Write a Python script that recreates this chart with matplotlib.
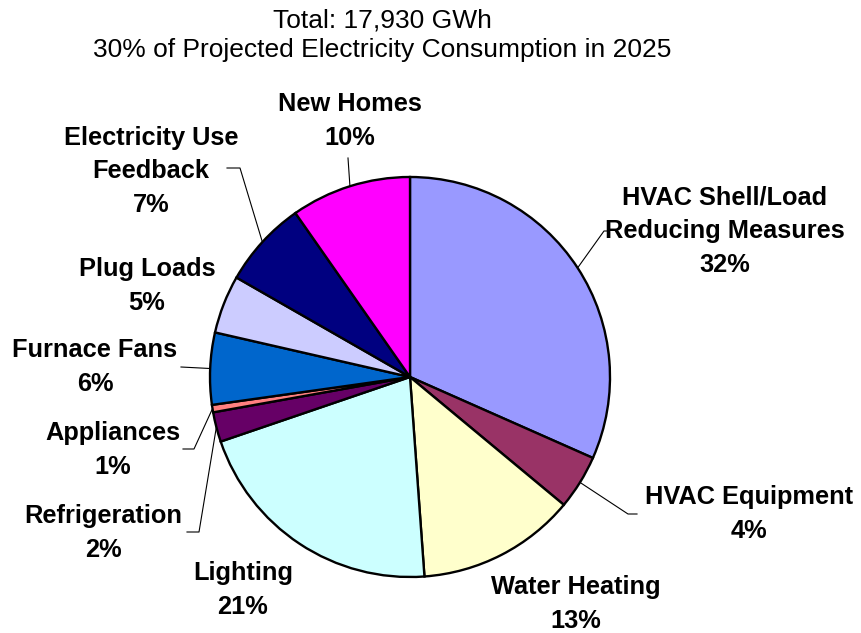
import numpy as np
import matplotlib.pyplot as plt

# share of savings by end use, % of the 17,930 GWh total
categories = ['HVAC Shell/Load\nReducing Measures', 'HVAC Equipment', 'Water Heating',
              'Lighting', 'Refrigeration', 'Appliances', 'Furnace Fans', 'Plug Loads',
              'Electricity Use\nFeedback', 'New Homes']
shares = [31.6, 4.4, 12.8, 20.9, 2.4, 0.6, 5.8, 4.7, 7.0, 9.7]
colors = ['#9999FF', '#993366', '#FFFFCC', '#CCFFFF', '#660066',
          '#FF8080', '#0066CC', '#CCCCFF', '#000080', '#FF00FF']

W, H = 861, 633

# label anchor (pixel x, pixel y from top) and leader line bends for each slice
label_pos = [(725, 231), (749, 514), (576, 604), (243, 590), (103, 533),
             (113, 450), (95, 367), (147, 286), (151, 171), (350, 121)]
leaders = [[(604, 231), (609, 231)], [(628, 514), (637, 514)], None, None,
           [(199, 532), (187, 532)], [(194, 449), (183, 449)], [(181, 367)],
           None, [(240, 168), (227, 168)], [(348, 158)]]

cx, cy, r = 410, 377, 200


def px(x, y):
    return x, H - y


fig = plt.figure(figsize=(W / 100, H / 100), dpi=100)
ax = fig.add_axes([0, 0, 1, 1])

wedges, _ = ax.pie(shares, colors=colors, startangle=90, counterclock=False,
                   center=px(cx, cy), radius=r,
                   wedgeprops=dict(edgecolor='black', linewidth=1.7))
ax.set_xlim(0, W)
ax.set_ylim(0, H)
ax.set_aspect('equal')
ax.axis('off')

for w, name, val, pos, bends in zip(wedges, categories, shares, label_pos, leaders):
    ax.text(*px(*pos), f'{name}\n{round(val):.0f}%', ha='center', va='center',
            fontsize=18.3, fontweight='bold', family='Liberation Sans',
            linespacing=1.5)
    if bends is None:
        continue
    mid = np.deg2rad((w.theta1 + w.theta2) / 2)
    xs = [cx + r * np.cos(mid)] + [b[0] for b in bends]
    ys = [H - cy + r * np.sin(mid)] + [H - b[1] for b in bends]
    ax.plot(xs, ys, color='black', lw=0.8)

ax.text(*px(382, 35), 'Total: 17,930 GWh\n30% of Projected Electricity Consumption in 2025',
        ha='center', va='center', fontsize=19, family='Liberation Sans', linespacing=1.3)

fig.savefig('out.png', dpi=100)
